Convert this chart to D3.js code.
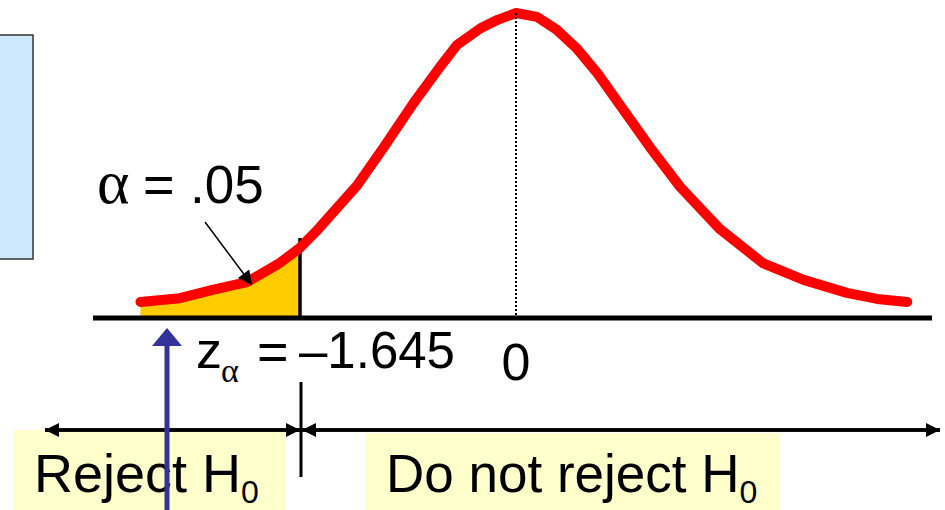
<!DOCTYPE html>
<html>
<head>
<meta charset="utf-8">
<script src="https://cdn.jsdelivr.net/npm/d3@7"></script>
<style>
  body { margin: 0; background: #fff; }
  text { font-family: "Liberation Sans", Arial, sans-serif; fill: #000; }
</style>
</head>
<body>
<script>
// Kurve: z-Werte und Dichte
var zValues = [-2.86, -2.56, -2.31, -2.05, -1.80, -1.645, -1.52, -1.21, -1.01, -0.78, -0.58, -0.45, -0.27, -0.14, 0,
               0.16, 0.31, 0.46, 0.62, 0.81, 1.02, 1.25, 1.55, 1.88, 2.19, 2.52, 2.75, 2.98];
var density = [0.021, 0.026, 0.037, 0.047, 0.072, 0.092, 0.114, 0.174, 0.223, 0.282, 0.329, 0.358, 0.380, 0.391, 0.400,
               0.395, 0.378, 0.354, 0.321, 0.275, 0.224, 0.172, 0.117, 0.072, 0.050, 0.033, 0.025, 0.021];
var criticalZ = -1.645;
var alphaText = ".05";
var zLabel = "\u20131.645";
var regionLabels = ["Reject H", "Do not reject H"];

var width = 945, height = 510;

var svg = d3.select("body").append("svg")
  .attr("width", width)
  .attr("height", height);

// Skalen
var xScale = d3.scaleLinear().domain([criticalZ, 0]).range([300, 516]);
var yScale = d3.scaleLinear().domain([0, 0.4]).range([318, 13]);

var data = zValues.map((z, i) => ({z: z, d: density[i]}));

// hellblaue Box links
svg.append("rect")
  .attr("x", -2).attr("y", 35).attr("width", 35).attr("height", 224)
  .attr("fill", "#cde9fb").attr("stroke", "#333").attr("stroke-width", 1.5);

// gelbe Flaeche (alpha)
var tail = data.filter(p => p.z <= criticalZ);
var area = d3.area()
  .x(p => xScale(p.z))
  .y0(yScale(0))
  .y1(p => yScale(p.d));
svg.append("path")
  .datum(tail)
  .attr("d", area)
  .attr("fill", "#ffcc00");

// kritische Linie
svg.append("line")
  .attr("x1", xScale(criticalZ)).attr("x2", xScale(criticalZ))
  .attr("y1", yScale(0.105)).attr("y2", yScale(0))
  .attr("stroke", "#000").attr("stroke-width", 3.5);

// rote Kurve
var line = d3.line()
  .x(p => xScale(p.z))
  .y(p => yScale(p.d));
svg.append("path")
  .datum(data)
  .attr("d", line)
  .attr("fill", "none")
  .attr("stroke", "#ff0000")
  .attr("stroke-width", 10)
  .attr("stroke-linecap", "round")
  .attr("stroke-linejoin", "round");

// gepunktete Mittellinie
svg.append("line")
  .attr("x1", xScale(0)).attr("x2", xScale(0))
  .attr("y1", yScale(0.4)).attr("y2", yScale(0))
  .attr("stroke", "#000").attr("stroke-width", 2)
  .attr("stroke-dasharray", "2,2");

// x-Achse (Grundlinie)
svg.append("line")
  .attr("x1", 93).attr("x2", 932)
  .attr("y1", yScale(0)).attr("y2", yScale(0))
  .attr("stroke", "#000").attr("stroke-width", 5);

// Pfeile definieren
var defs = svg.append("defs");
defs.append("marker")
  .attr("id", "headBlack")
  .attr("viewBox", "0 0 10 10")
  .attr("refX", 10).attr("refY", 5)
  .attr("markerUnits", "userSpaceOnUse")
  .attr("markerWidth", 16).attr("markerHeight", 14)
  .attr("orient", "auto")
  .append("path").attr("d", "M0,0L10,5L0,10Z").attr("fill", "#000");

// alpha Beschriftung
svg.append("text").attr("x", 97).attr("y", 203)
  .style("font-family", "'Liberation Serif', serif").style("font-size", "62px").text("\u03b1");
svg.append("text").attr("x", 143).attr("y", 203).style("font-size", "54px").text("=");
svg.append("text").attr("x", 190).attr("y", 203).style("font-size", "53px").text(alphaText);

svg.append("line")
  .attr("x1", 205).attr("y1", 222).attr("x2", 252).attr("y2", 285)
  .attr("stroke", "#000").attr("stroke-width", 1.5)
  .attr("marker-end", "url(#headBlack)");

// z_alpha Beschriftung
svg.append("text").attr("x", 196).attr("y", 368).style("font-size", "52px").text("z");
svg.append("text").attr("x", 221).attr("y", 382)
  .style("font-family", "'Liberation Serif', serif").style("font-size", "34px").text("\u03b1");
svg.append("text").attr("x", 257).attr("y", 370).style("font-size", "54px").text("=");
svg.append("text").attr("x", 299).attr("y", 368).style("font-size", "51px").text(zLabel);

svg.append("text")
  .attr("x", xScale(0)).attr("y", 380)
  .attr("text-anchor", "middle")
  .style("font-size", "52px").text("0");

// gelbe Boxen
svg.append("rect").attr("x", 13).attr("y", 430).attr("width", 272).attr("height", 82).attr("fill", "#ffffcc");
svg.append("rect").attr("x", 365).attr("y", 433).attr("width", 415).attr("height", 80).attr("fill", "#ffffcc");

// Bereichsgrenze
svg.append("line")
  .attr("x1", xScale(criticalZ) + 1).attr("x2", xScale(criticalZ) + 1)
  .attr("y1", 382).attr("y2", 477)
  .attr("stroke", "#000").attr("stroke-width", 3);

// Doppelpfeile
svg.append("line")
  .attr("x1", 300).attr("y1", 430).attr("x2", 45).attr("y2", 430)
  .attr("stroke", "#000").attr("stroke-width", 3.5)
  .attr("marker-end", "url(#headBlack)");
svg.append("line")
  .attr("x1", 45).attr("y1", 430).attr("x2", 300).attr("y2", 430)
  .attr("stroke", "#000").attr("stroke-width", 3.5)
  .attr("marker-end", "url(#headBlack)");
svg.append("line")
  .attr("x1", 940).attr("y1", 430).attr("x2", 302).attr("y2", 430)
  .attr("stroke", "#000").attr("stroke-width", 3.5)
  .attr("marker-end", "url(#headBlack)");
svg.append("line")
  .attr("x1", 302).attr("y1", 430).attr("x2", 940).attr("y2", 430)
  .attr("stroke", "#000").attr("stroke-width", 3.5)
  .attr("marker-end", "url(#headBlack)");

// Texte in den Boxen
var t1 = svg.append("text").attr("x", 34).attr("y", 492).style("font-size", "54px");
t1.append("tspan").text(regionLabels[0]);
t1.append("tspan").attr("dy", 11).style("font-size", "32px").text("0");

var t2 = svg.append("text").attr("x", 386).attr("y", 492).style("font-size", "53px");
t2.append("tspan").text(regionLabels[1]);
t2.append("tspan").attr("dy", 11).style("font-size", "32px").text("0");

// blauer Pfeil
svg.append("line")
  .attr("x1", 167).attr("x2", 167).attr("y1", 343).attr("y2", 515)
  .attr("stroke", "#333399").attr("stroke-width", 5);
svg.append("path")
  .attr("d", "M167,328L182,346L152,346Z")
  .attr("fill", "#333399");
</script>
</body>
</html>
